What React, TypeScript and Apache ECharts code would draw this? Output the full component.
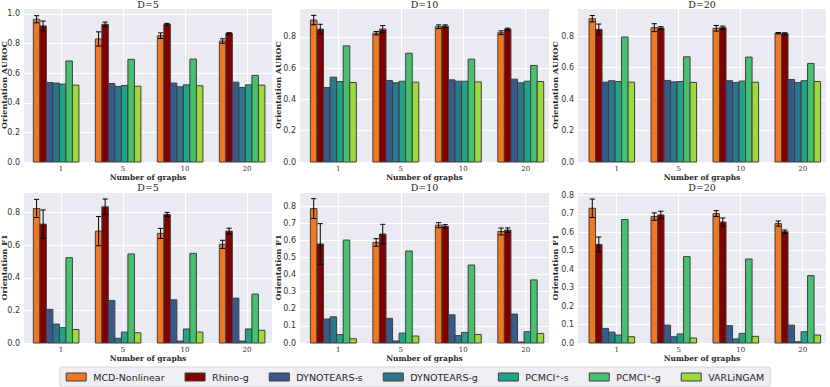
import React, { useEffect, useRef } from 'react';
import * as echarts from 'echarts';

// ---------- data ----------
const groups = ['1', '5', '10', '20'];
const methods = ['MCD-Nonlinear', 'Rhino-g', 'DYNOTEARS-s', 'DYNOTEARS-g', 'PCMCI⁺-s', 'PCMCI⁺-g', 'VARLiNGAM'];
const colors = ['#F07820', '#800000', '#38598c', '#2a788e', '#21a386', '#47c16e', '#9fda3a'];

// values per method (rows) for groups 1, 5, 10, 20 (columns)
const aurocD5 = [
  [0.964, 0.831, 0.853, 0.817],
  [0.919, 0.930, 0.930, 0.869],
  [0.537, 0.530, 0.533, 0.539],
  [0.533, 0.510, 0.508, 0.503],
  [0.526, 0.517, 0.521, 0.521],
  [0.682, 0.693, 0.695, 0.585],
  [0.519, 0.512, 0.515, 0.519],
];
const aurocD5Err = [
  [0.024, 0.048, 0.019, 0.015],
  [0.033, 0.015, 0.006, 0.004],
];
const aurocD10 = [
  [0.907, 0.823, 0.864, 0.826],
  [0.849, 0.849, 0.868, 0.849],
  [0.476, 0.521, 0.525, 0.529],
  [0.542, 0.506, 0.516, 0.506],
  [0.514, 0.516, 0.516, 0.516],
  [0.742, 0.695, 0.657, 0.617],
  [0.508, 0.510, 0.512, 0.514],
];
const aurocD10Err = [
  [0.030, 0.011, 0.012, 0.012],
  [0.031, 0.023, 0.008, 0.006],
];
const aurocD20 = [
  [0.910, 0.853, 0.849, 0.818],
  [0.842, 0.851, 0.853, 0.815],
  [0.507, 0.518, 0.516, 0.524],
  [0.516, 0.509, 0.505, 0.505],
  [0.511, 0.511, 0.514, 0.516],
  [0.794, 0.668, 0.666, 0.626],
  [0.507, 0.505, 0.507, 0.511],
];
const aurocD20Err = [
  [0.020, 0.025, 0.018, 0.004],
  [0.034, 0.008, 0.010, 0.006],
];
const f1D5 = [
  [0.825, 0.686, 0.672, 0.605],
  [0.729, 0.835, 0.788, 0.686],
  [0.206, 0.261, 0.265, 0.275],
  [0.116, 0.029, 0.012, 0.012],
  [0.094, 0.067, 0.086, 0.086],
  [0.523, 0.546, 0.550, 0.300],
  [0.083, 0.063, 0.067, 0.078],
];
const f1D5Err = [
  [0.056, 0.090, 0.031, 0.025],
  [0.087, 0.048, 0.013, 0.018],
];
const f1D10 = [
  [0.786, 0.588, 0.689, 0.652],
  [0.579, 0.637, 0.682, 0.660],
  [0.140, 0.144, 0.165, 0.169],
  [0.153, 0.012, 0.043, 0.006],
  [0.049, 0.058, 0.062, 0.066],
  [0.602, 0.538, 0.456, 0.369],
  [0.025, 0.041, 0.050, 0.056],
];
const f1D10Err = [
  [0.058, 0.022, 0.015, 0.020],
  [0.119, 0.057, 0.010, 0.013],
];
const f1D20 = [
  [0.730, 0.685, 0.701, 0.647],
  [0.534, 0.694, 0.655, 0.603],
  [0.079, 0.097, 0.094, 0.097],
  [0.059, 0.034, 0.022, 0.007],
  [0.043, 0.049, 0.052, 0.061],
  [0.669, 0.468, 0.455, 0.365],
  [0.034, 0.027, 0.036, 0.043],
];
const f1D20Err = [
  [0.050, 0.020, 0.016, 0.014],
  [0.040, 0.020, 0.022, 0.009],
];

const panelTitles = ['D=5', 'D=10', 'D=20', 'D=5', 'D=10', 'D=20'];
const panelMetrics = ['Orientation AUROC', 'Orientation AUROC', 'Orientation AUROC', 'Orientation F1', 'Orientation F1', 'Orientation F1'];
const panelValues = [aurocD5, aurocD10, aurocD20, f1D5, f1D10, f1D20];
const panelErrors = [aurocD5Err, aurocD10Err, aurocD20Err, f1D5Err, f1D10Err, f1D20Err];

// ---------- layout ----------
const colLeft = [24, 300, 578];
const colWidth = [248, 249, 248];
const xMin = [-0.597, -0.613, -0.624];
const xMax = [3.403, 3.373, 3.376];
const rowTop = [8, 192];
const rowHeight = [154, 151];
const titleY = [4.5, 187];
const yMax = [1.04, 0.984, 0.978, 0.926, 0.883, 0.818];
const yStep = [0.2, 0.2, 0.2, 0.2, 0.1, 0.1];
const yNameGap = [16, 18, 19];
const xNameGap = 11.5;
const barStep = 0.105;
const barOffset = (k: number) => (k - 3.75) * barStep;

const SERIF = '"DejaVu Serif", serif';
const SANS = '"DejaVu Sans", sans-serif';

function renderBar(params: any, api: any) {
  const x = api.value(0);
  const y = api.value(1);
  const p0 = api.coord([x - barStep / 2, y]);
  const p1 = api.coord([x + barStep / 2, 0]);
  return {
    type: 'rect',
    shape: { x: p0[0], y: p0[1], width: p1[0] - p0[0], height: p1[1] - p0[1] },
    style: api.style(),
  };
}

function renderErr(params: any, api: any) {
  const x = api.value(0);
  const y = api.value(1);
  const e = api.value(2);
  const top = api.coord([x, y + e]);
  const bot = api.coord([x, y - e]);
  const cap = 2.6;
  const st = { stroke: '#000', lineWidth: 1 };
  return {
    type: 'group',
    children: [
      { type: 'line', shape: { x1: top[0], y1: top[1], x2: bot[0], y2: bot[1] }, style: st },
      { type: 'line', shape: { x1: top[0] - cap, y1: top[1], x2: top[0] + cap, y2: top[1] }, style: st },
      { type: 'line', shape: { x1: bot[0] - cap, y1: bot[1], x2: bot[0] + cap, y2: bot[1] }, style: st },
    ],
  };
}

function buildOption() {
  const grid: any[] = [];
  const xAxis: any[] = [];
  const yAxis: any[] = [];
  const series: any[] = [];
  const graphic: any[] = [];

  panelValues.forEach((vals, i) => {
    const r = Math.floor(i / 3);
    const c = i % 3;
    grid.push({
      left: colLeft[c], top: rowTop[r], width: colWidth[c], height: rowHeight[r],
      show: true, backgroundColor: '#EAEAF2', borderWidth: 0,
      containLabel: false, outerBoundsMode: 'none',
    });
    xAxis.push({
      type: 'value', gridIndex: i, min: xMin[c], max: xMax[c],
      name: 'Number of graphs', nameLocation: 'middle', nameGap: xNameGap, nameMoveOverlap: false,
      nameTextStyle: { fontFamily: SERIF, fontWeight: 'bold', fontSize: 7.5, color: '#262626' },
      axisLine: { show: false },
      axisTick: { show: false, customValues: [0, 1, 2, 3] },
      axisLabel: {
        customValues: [0, 1, 2, 3],
        formatter: (v: number) => groups[Math.round(v)] ?? '',
        margin: 3, fontFamily: SERIF, fontSize: 7, color: '#333',
      },
      splitLine: { show: true, lineStyle: { color: '#ffffff', width: 1 } },
    });
    yAxis.push({
      type: 'value', gridIndex: i, min: 0, max: yMax[i], interval: yStep[i],
      name: panelMetrics[i], nameLocation: 'middle', nameGap: yNameGap[c], nameRotate: 90,
      nameMoveOverlap: false,
      nameTextStyle: { fontFamily: SERIF, fontWeight: 'bold', fontSize: 8, color: '#262626' },
      axisLine: { show: false },
      axisTick: { show: false },
      axisLabel: {
        showMaxLabel: false,
        formatter: (v: number) => v.toFixed(1),
        margin: 4, fontFamily: SANS, fontSize: 8, color: '#333',
      },
      splitLine: { show: true, lineStyle: { color: '#ffffff', width: 1 } },
    });
    methods.forEach((m, k) => {
      series.push({
        type: 'custom', name: m, xAxisIndex: i, yAxisIndex: i,
        renderItem: renderBar,
        encode: { x: 0, y: 1 },
        itemStyle: { color: colors[k], borderColor: '#3f3f3f', borderWidth: 1 },
        data: vals[k].map((v, g) => [g + barOffset(k), v]),
      });
    });
    series.push({
      type: 'custom', name: 'error', xAxisIndex: i, yAxisIndex: i, z: 10, silent: true,
      renderItem: renderErr,
      encode: { x: 0, y: 1 },
      data: panelErrors[i].flatMap((errs, k) => errs.map((e, g) => [g + barOffset(k), vals[k][g], e])),
    });
    graphic.push({
      type: 'text',
      x: colLeft[c] + colWidth[c] / 2,
      y: titleY[r],
      style: {
        text: panelTitles[i],
        textAlign: 'center', textVerticalAlign: 'middle',
        align: 'center', verticalAlign: 'middle',
        font: `9.5px ${SERIF}`, fill: '#262626',
      },
    });
  });

  return {
    animation: false,
    grid, xAxis, yAxis, series, graphic,
    legend: {
      data: methods,
      left: 'center', top: 367,
      icon: 'rect', itemWidth: 20, itemHeight: 8, itemGap: 20,
      padding: [5, 6],
      backgroundColor: '#eeeef3', borderColor: '#d6d6dc', borderWidth: 1, borderRadius: 3,
      itemStyle: { borderColor: '#3f3f3f', borderWidth: 1 },
      textStyle: { fontFamily: SANS, fontSize: 9.5, color: '#262626', padding: [0, 0, 0, 2] },
    },
  };
}

export default function App() {
  const ref = useRef<HTMLDivElement>(null);
  useEffect(() => {
    if (!ref.current) return;
    const chart = echarts.init(ref.current, undefined, { renderer: 'svg' });
    chart.setOption(buildOption() as any);
    return () => chart.dispose();
  }, []);
  return (
    <div
      ref={ref}
      style={{ position: 'fixed', left: 0, top: 0, width: 830, height: 387, background: '#fff' }}
    />
  );
}
